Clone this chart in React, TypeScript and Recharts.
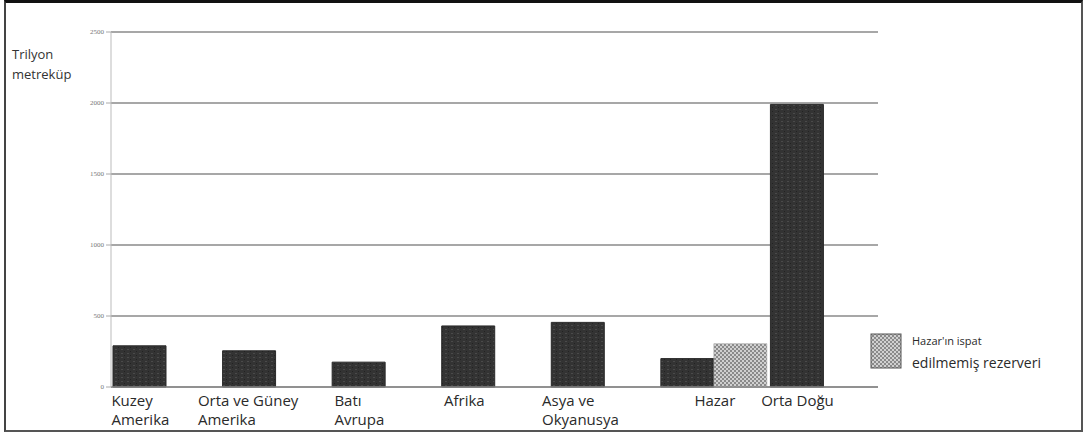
import React from "react";
import { BarChart, Bar, XAxis, YAxis, CartesianGrid } from "recharts";

const regions = ["Kuzey Amerika", "Orta ve Güney Amerika", "Batı Avrupa", "Afrika", "Asya ve Okyanusya", "Hazar", "Orta Doğu"];
const regionLines = [
  ["Kuzey", "Amerika"],
  ["Orta ve Güney", "Amerika"],
  ["Batı", "Avrupa"],
  ["Afrika"],
  ["Asya ve", "Okyanusya"],
  ["Hazar"],
  ["Orta Doğu"],
];
const provenReserves = [290, 255, 175, 430, 455, 200, 1990];
const unprovenReserves = [0, 0, 0, 0, 0, 305, 0];
const yTicks = [0, 500, 1000, 1500, 2000, 2500];

const data = regions.map((r, i) => ({
  region: r,
  proven: provenReserves[i],
  unproven: unprovenReserves[i],
}));

const W = 1085;
const H = 432;
const M = { top: 32, right: 207, bottom: 5, left: 71 };
const Y_W = 40;
const plotW = W - M.left - M.right - Y_W;
const band = plotW / regions.length;

function RegionTick(props: any) {
  const { x, y, payload } = props;
  const i = payload.index;
  const lines = regionLines[i] || [payload.value];
  const maxLen = Math.max(...lines.map((l) => l.length));
  const center = unprovenReserves[i] > 0 ? x : x - band / 4;
  const startX = center - (maxLen * 7.7) / 2;
  return (
    <text x={startX} y={y + 11} fill="#2a2a2a" fontSize={15} fontFamily="'Open Sans', sans-serif" textAnchor="start">
      {lines.map((l, k) => (
        <tspan key={k} x={startX} dy={k === 0 ? 0 : 19}>
          {l}
        </tspan>
      ))}
    </text>
  );
}

function LegendBox() {
  return (
    <div style={{ display: "flex", alignItems: "flex-start", fontFamily: "'Open Sans', sans-serif", color: "#2a2a2a" }}>
      <svg width={32} height={36} style={{ marginTop: 3 }}>
        <defs>
          <pattern id="legChecker" width={4} height={4} patternUnits="userSpaceOnUse">
            <rect width={4} height={4} fill="#d0d0d0" />
            <rect width={2} height={2} fill="#8a8a8a" />
            <rect x={2} y={2} width={2} height={2} fill="#8a8a8a" />
          </pattern>
        </defs>
        <rect x={1} y={1} width={30} height={34} fill="url(#legChecker)" stroke="#555" strokeWidth={1} />
      </svg>
      <div style={{ marginLeft: 10, lineHeight: "22px" }}>
        <div style={{ fontSize: 11 }}>Hazar'ın ispat</div>
        <div style={{ fontSize: 14 }}>edilmemiş rezerveri</div>
      </div>
    </div>
  );
}

export default function App() {
  return (
    <div style={{ position: "absolute", left: 0, top: 0, width: W, height: H, background: "#fff", overflow: "hidden" }}>
      <div
        style={{
          position: "absolute",
          left: 4,
          top: 0,
          width: W - 10,
          height: H - 5,
          borderTop: "3px solid #111",
          borderLeft: "2px solid #444",
          borderRight: "2px solid #555",
          borderBottom: "2px solid #555",
        }}
      />
      <div style={{ position: "absolute", left: 12, top: 44, fontFamily: "'Open Sans', sans-serif", fontSize: 13, color: "#333", lineHeight: "20px" }}>
        <div>Trilyon</div>
        <div>metreküp</div>
      </div>
      <div style={{ position: "absolute", left: 0, top: 0 }}>
        <BarChart width={W} height={H} data={data} margin={M} barGap={0} barCategoryGap={2}>
          <defs>
            <pattern id="darkFill" width={6} height={4} patternUnits="userSpaceOnUse">
              <rect width={6} height={4} fill="#333" />
              <rect x={1} y={1} width={2} height={1} fill="#4a4a4a" />
              <rect x={4} y={3} width={1} height={1} fill="#222" />
            </pattern>
            <pattern id="checker" width={4} height={4} patternUnits="userSpaceOnUse">
              <rect width={4} height={4} fill="#d0d0d0" />
              <rect width={2} height={2} fill="#8a8a8a" />
              <rect x={2} y={2} width={2} height={2} fill="#8a8a8a" />
            </pattern>
          </defs>
          <CartesianGrid vertical={false} stroke="#8a8a8a" strokeWidth={1.5} />
          <XAxis
            dataKey="region"
            interval={0}
            tick={<RegionTick />}
            tickLine={false}
            axisLine={{ stroke: "#8a8a8a", strokeWidth: 1.5 }}
            height={40}
          />
          <YAxis
            domain={[0, 2500]}
            ticks={yTicks}
            width={Y_W}
            tick={{ fontSize: 7, fill: "#777" }}
            tickSize={5}
            tickLine={{ stroke: "#aaa" }}
            axisLine={{ stroke: "#bbb" }}
          />
          <Bar dataKey="proven" fill="url(#darkFill)" stroke="#2a2a2a" strokeWidth={1} isAnimationActive={false} />
          <Bar dataKey="unproven" fill="url(#checker)" stroke="#999" strokeWidth={0.5} isAnimationActive={false} />
        </BarChart>
      </div>
      <div style={{ position: "absolute", left: 870, top: 330 }}>
        <LegendBox />
      </div>
    </div>
  );
}
